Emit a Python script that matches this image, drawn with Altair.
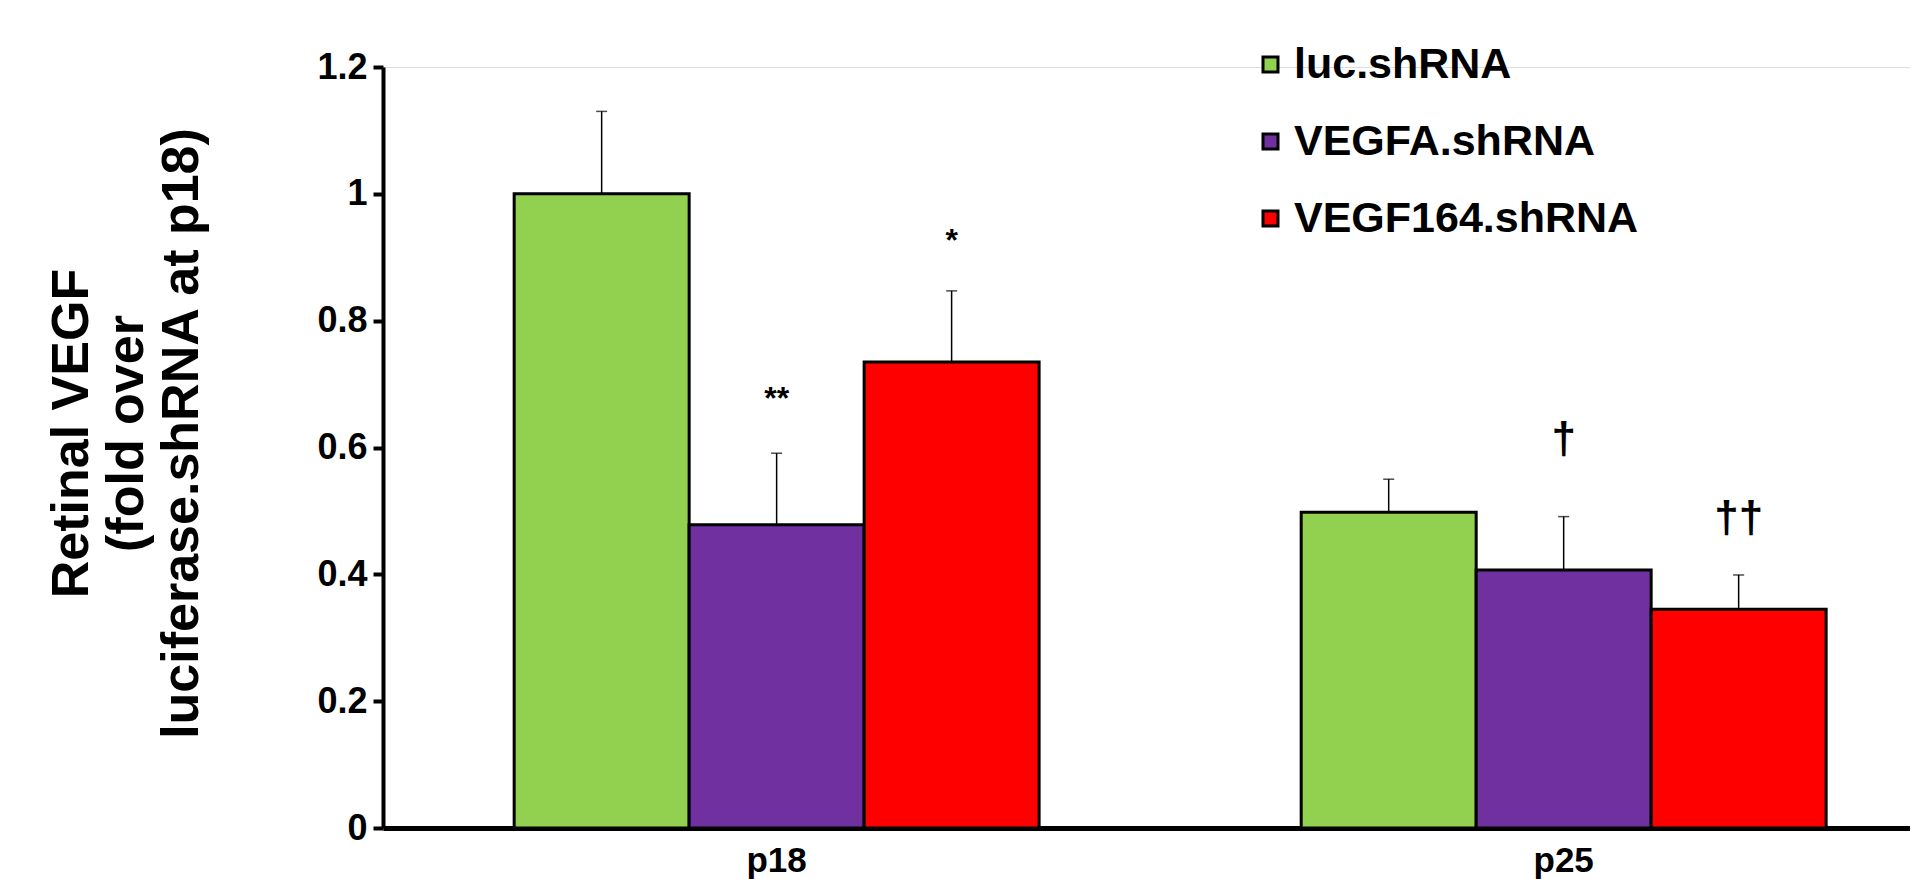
import altair as alt
import pandas as pd

groups = ["p18", "p25"]
series = ["luc.shRNA", "VEGFA.shRNA", "VEGF164.shRNA"]
colors = ["#92D050", "#7030A0", "#FF0000"]
border_colors = ["black", "black", "black"]
border_widths = [3, 3, 1.5]

p18_means = [1.00, 0.478, 0.735]
p18_errors = [0.130, 0.113, 0.112]
p25_means = [0.498, 0.407, 0.345]
p25_errors = [0.052, 0.084, 0.054]

sig_group = ["p18", "p18", "p25", "p25"]
sig_series = ["VEGFA.shRNA", "VEGF164.shRNA", "VEGFA.shRNA", "VEGF164.shRNA"]
sig_text = ["**", "*", "†", "††"]
sig_level = [0.677, 0.925, 0.612, 0.487]

y_ticks = [0, 0.2, 0.4, 0.6, 0.8, 1.0, 1.2]
y_title = ["Retinal VEGF", "(fold over", "luciferase.shRNA at p18)"]

rows = []
for g, means, errs in [("p18", p18_means, p18_errors), ("p25", p25_means, p25_errors)]:
    for s, m, e in zip(series, means, errs):
        rows.append({"group": g, "series": s, "mean": m, "upper": m + e})
df = pd.DataFrame(rows)

sig = pd.DataFrame({"group": sig_group, "series": sig_series, "label": sig_text, "level": sig_level})

FONT = "Liberation Sans"

x_axis = alt.Axis(title=None, labelAngle=0, ticks=False, domainWidth=5, domainColor="black",
                  labelFontSize=35, labelPadding=15, labelFont=FONT, labelFontWeight="bold",
                  labelColor="black")
x_enc = alt.X("group:N", sort=groups,
              scale=alt.Scale(domain=groups, paddingInner=0.333, paddingOuter=0.1366, align=0.61),
              axis=x_axis)
xo_enc = alt.XOffset("series:N", sort=series,
                     scale=alt.Scale(domain=series, paddingInner=0, paddingOuter=0))

y_axis = alt.Axis(values=y_ticks, format="~g", title=y_title, titleFontSize=52, titleFont=FONT,
                  titleFontWeight="bold", titleColor="black", titleX=-312, titleY=366,
                  titleAngle=-90, titleBaseline="middle", titleAlign="center", titleLineHeight=55,
                  domainWidth=4, domainColor="black", tickWidth=4, tickSize=10, tickColor="black",
                  labelFontSize=36, labelFont=FONT, labelFontWeight="bold", labelColor="black",
                  labelPadding=6, grid=False)
y_scale = alt.Scale(domain=[0, 1.2], nice=False, zero=True)

legend = alt.Legend(title=None, orient="none", legendX=866, legendY=-24, symbolType="square",
                    symbolSize=225, symbolStrokeColor="black", symbolStrokeWidth=3,
                    labelFontSize=43, labelFont=FONT,
                    labelFontWeight="bold", labelColor="black", rowPadding=33, labelLimit=800,
                    labelOffset=2, padding=0)

bars = alt.Chart(df).mark_bar().encode(
    x=x_enc,
    xOffset=xo_enc,
    y=alt.Y("mean:Q", scale=y_scale, axis=y_axis),
    color=alt.Color("series:N", sort=series, scale=alt.Scale(domain=series, range=colors), legend=legend),
    stroke=alt.Stroke("series:N", sort=series,
                      scale=alt.Scale(domain=series, range=border_colors), legend=legend),
    strokeWidth=alt.StrokeWidth("series:N", sort=series,
                                scale=alt.Scale(domain=series, range=border_widths), legend=legend),
)

err = alt.Chart(df).mark_rule(color="black", strokeWidth=1.5).encode(
    x=x_enc, xOffset=xo_enc,
    y=alt.Y("mean:Q", scale=y_scale, axis=y_axis),
    y2="upper:Q",
)

caps = alt.Chart(df).mark_tick(color="black", thickness=1.5, size=11).encode(
    x=x_enc, xOffset=xo_enc,
    y=alt.Y("upper:Q", scale=y_scale, axis=y_axis),
)

stars = alt.Chart(sig).transform_filter(alt.datum.label != "†").transform_filter(
    alt.datum.label != "††").mark_text(font=FONT, fontWeight="bold", fontSize=32, baseline="middle",
                                        color="black").encode(
    x=x_enc, xOffset=xo_enc,
    y=alt.Y("level:Q", scale=y_scale, axis=y_axis),
    text="label:N",
)

daggers = alt.Chart(sig).transform_filter(
    (alt.datum.label == "†") | (alt.datum.label == "††")).mark_text(
    font=FONT, fontWeight="bold", fontSize=44, baseline="middle", color="black").encode(
    x=x_enc, xOffset=xo_enc,
    y=alt.Y("level:Q", scale=y_scale, axis=y_axis),
    text="label:N",
)

chart = alt.layer(bars, err, caps, stars, daggers).properties(
    width=1527, height=761,
    padding={"left": 375, "top": 59, "right": 0, "bottom": 55},
    autosize=alt.AutoSizeParams(type="none"),
).configure_view(stroke=None).configure(background="white")

chart.save("out.html", embed_options={"renderer": "svg", "actions": False})
